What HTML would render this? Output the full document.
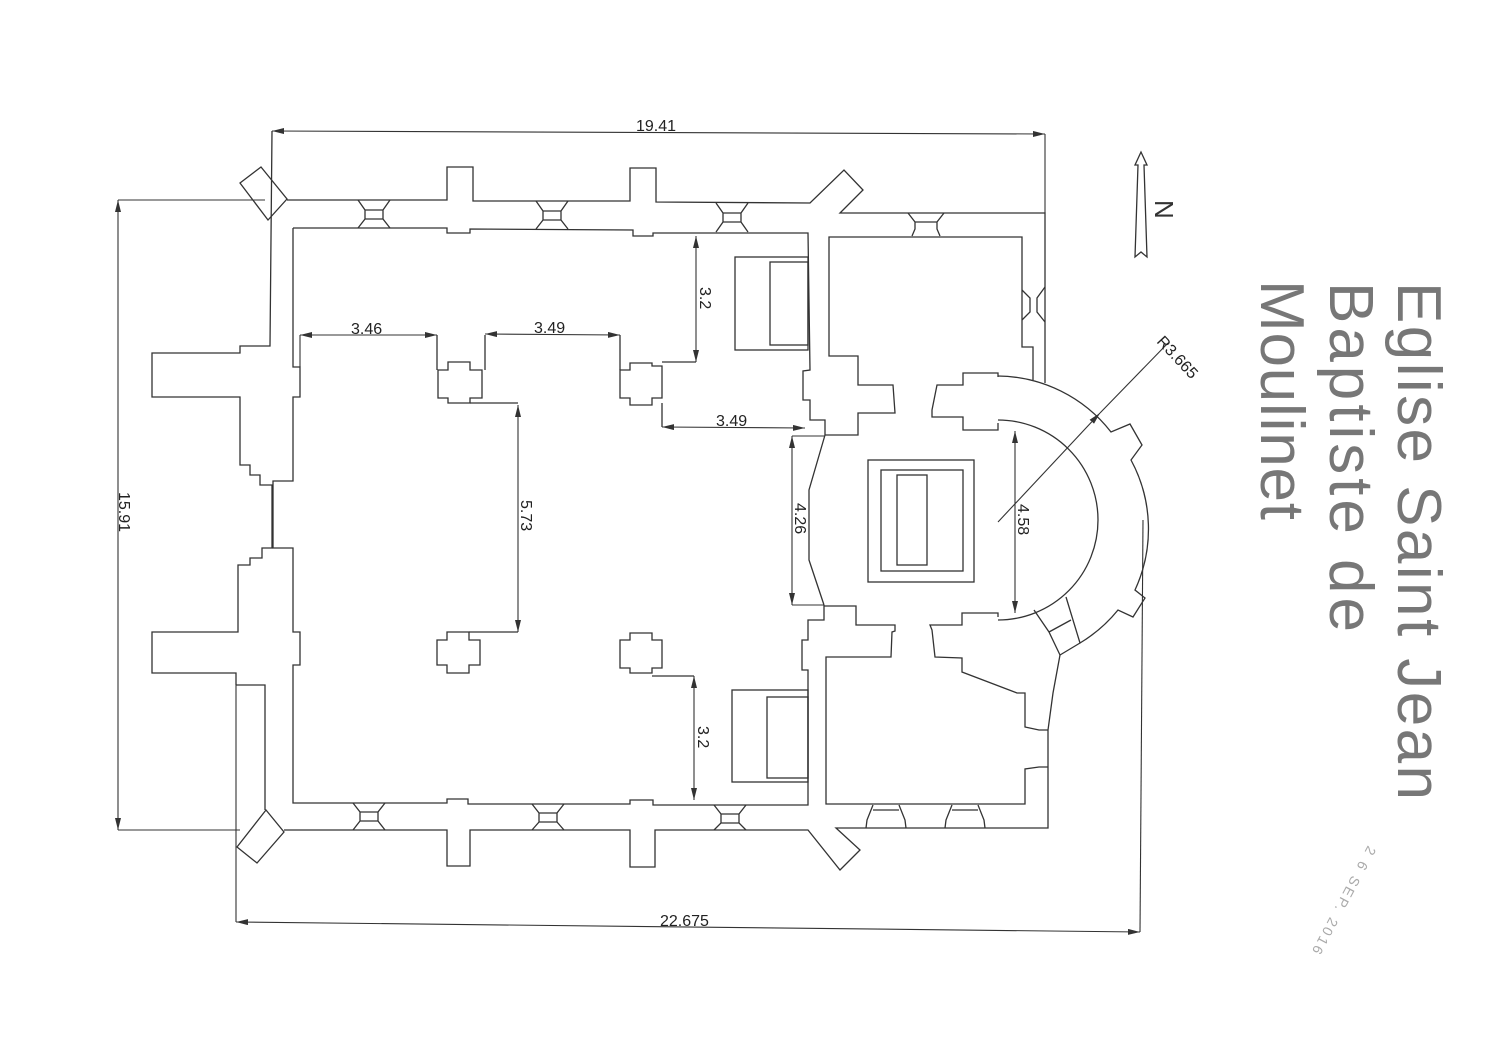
<!DOCTYPE html>
<html><head><meta charset="utf-8"><style>
html,body{margin:0;padding:0;background:#fff;}
svg{display:block;}
.w{fill:none;stroke:#333;stroke-width:1.3;stroke-linejoin:miter;}
.d{fill:none;stroke:#333;stroke-width:1.1;}
.t{font-family:"Liberation Sans",sans-serif;font-size:16px;fill:#222;}
.big{font-family:"Liberation Sans",sans-serif;font-size:62px;fill:#777;}
</style></head><body>
<svg width="1500" height="1055" viewBox="0 0 1500 1055" xmlns="http://www.w3.org/2000/svg">
<defs>
<marker id="a" viewBox="0 0 12 6" refX="12" refY="3" markerWidth="12" markerHeight="6" orient="auto-start-reverse" markerUnits="userSpaceOnUse"><path d="M0,0 L12,3 L0,6z" fill="#333"/></marker>
</defs>

<!-- dimension lines -->
<line class="d" x1="272" y1="131" x2="1045" y2="134" marker-start="url(#a)" marker-end="url(#a)"/>
<text class="t" x="636" y="131">19.41</text>
<line class="d" x1="1045" y1="134" x2="1045" y2="213"/>
<line class="d" x1="118" y1="200" x2="118" y2="830" marker-start="url(#a)" marker-end="url(#a)"/>
<line class="d" x1="118" y1="200" x2="265" y2="200"/>
<line class="d" x1="118" y1="830" x2="240" y2="830"/>
<text class="t" transform="translate(119,492) rotate(90)">15.91</text>
<line class="d" x1="236" y1="922" x2="1140" y2="932" marker-start="url(#a)" marker-end="url(#a)"/>
<line class="d" x1="236" y1="685" x2="236" y2="922"/>
<line class="d" x1="1143" y1="520" x2="1140" y2="932"/>
<text class="t" x="660" y="926">22.675</text>

<line class="d" x1="300" y1="335" x2="437" y2="335" marker-start="url(#a)" marker-end="url(#a)"/>
<text class="t" x="351" y="334">3.46</text>
<line class="d" x1="300" y1="335" x2="300" y2="367"/>
<line class="d" x1="485" y1="334" x2="620" y2="335" marker-start="url(#a)" marker-end="url(#a)"/>
<text class="t" x="534" y="333">3.49</text>
<line class="d" x1="696" y1="236" x2="696" y2="362" marker-start="url(#a)" marker-end="url(#a)"/>
<text class="t" transform="translate(700,287) rotate(90)">3.2</text>
<line class="d" x1="694" y1="676" x2="694" y2="800" marker-start="url(#a)" marker-end="url(#a)"/>
<text class="t" transform="translate(698,726) rotate(90)">3.2</text>
<line class="d" x1="662" y1="427" x2="805" y2="428" marker-start="url(#a)" marker-end="url(#a)"/>
<text class="t" x="716" y="426">3.49</text>
<line class="d" x1="518" y1="405" x2="518" y2="632" marker-start="url(#a)" marker-end="url(#a)"/>
<text class="t" transform="translate(521,500) rotate(90)">5.73</text>
<line class="d" x1="792" y1="436" x2="792" y2="605" marker-start="url(#a)" marker-end="url(#a)"/>
<line class="d" x1="792" y1="436" x2="825" y2="436"/>
<line class="d" x1="792" y1="605" x2="824" y2="605"/>
<text class="t" transform="translate(795,503) rotate(90)">4.26</text>
<line class="d" x1="1015" y1="431" x2="1015" y2="613" marker-start="url(#a)" marker-end="url(#a)"/>
<text class="t" transform="translate(1018,504) rotate(90)">4.58</text>
<line class="d" x1="998" y1="522" x2="1100" y2="413" marker-end="url(#a)"/>
<line class="d" x1="1100" y1="413" x2="1168" y2="343"/>
<text class="t" transform="translate(1156,342) rotate(47)">R3.665</text>

<!-- outer walls -->
<path class="w" d="M287,200 L447,200 L447,167 L473,167 L473,201 L630,201 L630,168 L656,168 L656,202 L810,203 L844,170 L863,190 L840,213 L1045,213 L1045,383"/>
<path class="w" d="M272,131 L270,346 L240,346 L240,353 L152,353 L152,397 L240,397 L240,465 L250,465 L250,475 L260,475 L260,485 L272,485 L272,548 L262,548 L262,558 L250,558 L250,565 L238,565 L238,632 L152,632 L152,673 L236,673 L236,685"/>
<path class="w" d="M236,685 L265,685 L265,810"/>
<path class="w" d="M284,830 L447,830 L447,866 L470,866 L470,830 L630,830 L630,867 L655,867 L655,830 L808,830 L840,870 L860,850 L836,828 L1048,828 L1048,730 L1053,693 L1060,655"/>
<!-- corner diagonal buttresses -->
<path class="w" d="M240,183 L261,167 L287,199 L268,220 Z"/>
<path class="w" d="M237,847 L257,863 L284,832 L266,810 Z"/>

<!-- inner nave line -->
<path class="w" d="M293,228 L447,228 L447,233 L470,233 L470,229 L633,230 L633,236 L653,236 L653,233 L808,233 L810,370 L803,371 L803,400 L810,400 L810,420 L825,420 L825,435"/>
<path class="w" d="M293,228 L293,367 L300,367 L300,397 L293,397 L293,481 L273,481 L273,548 L293,548 L293,632 L300,632 L300,665 L293,665 L293,803 L447,803 L447,799 L468,799 L468,804 L630,804 L630,800 L653,800 L653,805 L808,805 L808,670 L802,670 L802,640 L808,640 L808,620 L824,620 L824,605"/>

<!-- windows -->
<g class="w">
<path d="M358,200 L365,210 L365,219 L358,228 M390,200 L383,210 L383,219 L390,228 M365,210 L383,210 M365,219 L383,219"/>
<path d="M536,201 L543,211 L543,220 L536,229 M568,201 L561,211 L561,220 L568,229 M543,211 L561,211 M543,220 L561,220"/>
<path d="M716,203 L723,213 L723,222 L716,232 M748,203 L741,213 L741,222 L748,232 M723,213 L741,213 M723,222 L741,222"/>
<path d="M908,213 L915,222 L915,229 L912,236 M944,213 L937,222 L937,229 L940,236 M915,222 L937,222"/>
<path d="M1022,290 L1030,298 L1030,312 L1022,320 M1045,287 L1037,298 L1037,312 L1045,322"/>
<path d="M353,803 L360,812 L360,821 L353,830 M385,803 L378,812 L378,821 L385,830 M360,812 L378,812 M360,821 L378,821"/>
<path d="M532,804 L539,813 L539,822 L532,830 M564,804 L557,813 L557,822 L564,830 M539,813 L557,813 M539,822 L557,822"/>
<path d="M714,805 L721,814 L721,823 L714,830 M746,805 L739,814 L739,823 L746,830 M721,814 L739,814 M721,823 L739,823"/>
<path d="M873,805 L867,820 L866,828 M899,805 L905,820 L906,828 M873,810 L899,810"/>
<path d="M952,805 L946,820 L945,828 M978,805 L984,820 L985,828 M952,810 L978,810"/>
</g>

<!-- piers -->
<g class="w">
<path d="M438,370 L448,370 L448,362 L470,362 L470,370 L482,370 L482,398 L470,398 L470,403 L448,403 L448,398 L438,398 Z"/>
<path d="M437,335 L437,370 M485,335 L485,370 M470,403 L518,403"/>
<path d="M620,370 L630,370 L630,363 L652,363 L652,366 L662,366 L662,398 L652,398 L652,405 L630,405 L630,398 L620,398 Z"/>
<path d="M620,335 L620,370 M662,362 L696,362 M662,403 L662,427"/>
<path d="M437,640 L447,640 L447,632 L469,632 L469,640 L480,640 L480,665 L469,665 L469,673 L447,673 L447,665 L437,665 Z"/>
<path d="M469,632 L518,632"/>
<path d="M620,640 L630,640 L630,633 L652,633 L652,640 L662,640 L662,668 L652,668 L652,673 L630,673 L630,668 L620,668 Z"/>
<path d="M652,676 L694,676"/>
</g>

<!-- chapels -->
<g class="w">
<rect x="735" y="257" width="73" height="93"/>
<rect x="770" y="262" width="38" height="83"/>
<rect x="732" y="690" width="76" height="92"/>
<rect x="767" y="697" width="41" height="81"/>
</g>

<!-- north room -->
<path class="w" d="M825,435 L858,435 L858,413 L895,413 L893,385 L858,385 L858,356 L829,356 L829,237 L1022,237 L1022,347 L1033,347 L1033,380"/>
<path class="w" d="M825,435 L809,490 L809,560 L824,605"/>
<!-- south room -->
<path class="w" d="M824,606 L856,606 L856,625 L895,625 L895,631 L892,632 L891,657 L826,657 L826,804 L1025,804 L1025,769 L1039,767 L1048,767"/>
<path class="w" d="M1048,730 L1039,730 L1025,727 L1025,693 L1017,693 L962,672 L962,658 L935,657 L932,630 L930,625 L962,625 L962,613 L998,613 L998,617"/>

<!-- chancel north jamb -->
<path class="w" d="M998,377 L998,373 L963,373 L963,385 L937,385 L932,410 L932,417 L963,417 L963,430 L998,430 L998,423"/>

<!-- apse arcs -->
<path class="w" d="M998,376 A145,145 0 0 1 1111,432 L1130,424 L1142,445 L1131,460 A145,145 0 0 1 1135,590 L1145,598 L1133,617 L1118,610 A145,145 0 0 1 1080,643"/>
<path class="w" d="M998,420 A100,100 0 0 1 1098,520 A100,100 0 0 1 998,620"/>
<path class="w" d="M1034,610 L1049,632 L1060,655 L1080,643 L1066,597 M1049,632 L1071,620"/>

<!-- altar -->
<g class="w">
<rect x="868" y="460" width="106" height="122"/>
<rect x="881" y="470" width="82" height="101"/>
<rect x="897" y="475" width="30" height="90"/>
</g>

<!-- north arrow -->
<path class="w" d="M1141,152 L1135,165 L1138,165 L1135,257 L1141,252 L1147,257 L1144,165 L1147,165 Z"/>
<text transform="translate(1155,200) rotate(90)" style="font-family:'Liberation Sans',sans-serif;font-size:26px;fill:#333">N</text>

<!-- title -->
<text class="big" transform="translate(1398,282) rotate(90)" textLength="518" lengthAdjust="spacing">Eglise Saint Jean</text>
<text class="big" transform="translate(1330,282) rotate(90)" textLength="350" lengthAdjust="spacing">Baptiste de</text>
<text class="big" transform="translate(1261,280) rotate(90)" textLength="240" lengthAdjust="spacing">Moulinet</text>

<!-- stamp -->
<text transform="translate(1368,845) rotate(118)" style="font-family:'Liberation Sans',sans-serif;font-size:14px;fill:#aaa" textLength="120">2 6 SEP. 2016</text>
</svg>
</body></html>
